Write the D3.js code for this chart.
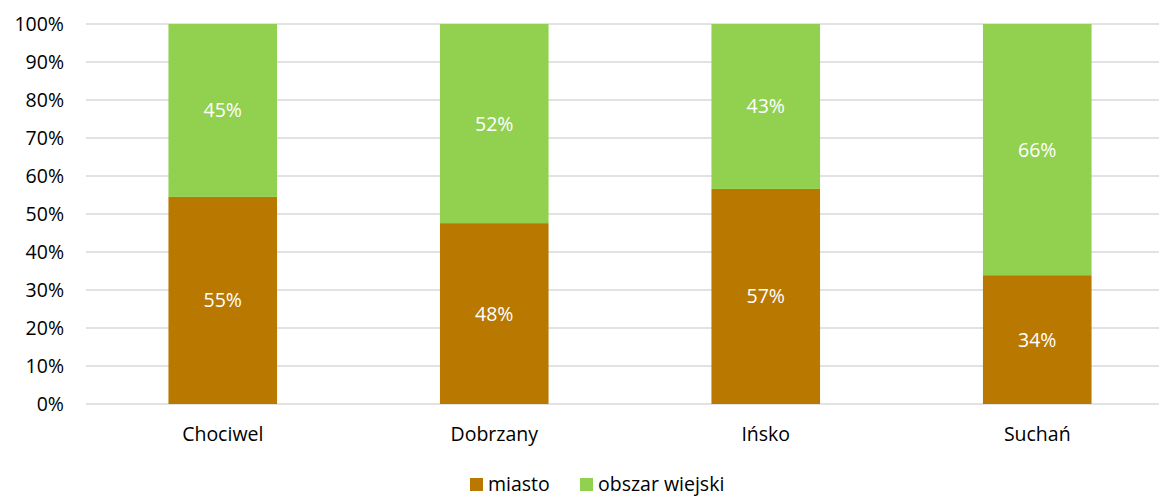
<!DOCTYPE html>
<html>
<head>
<meta charset="utf-8">
<script src="https://cdn.jsdelivr.net/npm/d3@7"></script>
<style>
  body { margin: 0; background: #fff; }
  text { font-family: "Open Sans", "Noto Sans", sans-serif; }
</style>
</head>
<body>
<svg id="chart" width="1159" height="497"></svg>
<script>
// data
let categories = ['Chociwel', 'Dobrzany', 'Ińsko', 'Suchań'];
let miasto = [54.5, 47.6, 56.6, 33.9];
let wies = [45.5, 52.4, 43.4, 66.1];
let miastoLabels = ['55%', '48%', '57%', '34%'];
let wiesLabels = ['45%', '52%', '43%', '66%'];
let yTicks = [0, 10, 20, 30, 40, 50, 60, 70, 80, 90, 100];
let seriesNames = ['miasto', 'obszar wiejski'];
let colors = ['#B97800', '#92D050'];

let fontSize = '19.5px';
let svg = d3.select('#chart');

let x = d3.scaleBand().domain(categories).range([87, 1173]).paddingInner(0.6).paddingOuter(0.3);
let y = d3.scaleLinear().domain([0, 100]).range([404, 24]);

// gridlines
svg.append('g').selectAll('line')
    .data(yTicks)
    .enter().append('line')
    .attr('x1', 86).attr('x2', 1159)
    .attr('y1', d => y(d)).attr('y2', d => y(d))
    .attr('stroke', '#d9d9d9').attr('stroke-width', 1.3);

// y tick labels
svg.append('g').selectAll('text')
    .data(yTicks)
    .enter().append('text')
    .attr('x', 64).attr('y', d => y(d) + 7)
    .attr('text-anchor', 'end')
    .attr('font-size', fontSize)
    .attr('fill', '#000')
    .text(d => d + '%');

// stacked bars
let rows = categories.map((c, i) => ({ cat: c, miasto: miasto[i], wies: wies[i], ml: miastoLabels[i], wl: wiesLabels[i] }));

let bars = svg.append('g');
bars.selectAll('.m')
    .data(rows)
    .enter().append('rect')
    .attr('class', 'm')
    .attr('x', d => x(d.cat)).attr('width', x.bandwidth())
    .attr('y', d => y(d.miasto)).attr('height', d => y(0) - y(d.miasto))
    .attr('fill', colors[0]);
bars.selectAll('.w')
    .data(rows)
    .enter().append('rect')
    .attr('class', 'w')
    .attr('x', d => x(d.cat)).attr('width', x.bandwidth())
    .attr('y', d => y(d.miasto + d.wies)).attr('height', d => y(d.miasto) - y(d.miasto + d.wies))
    .attr('fill', colors[1]);

// data labels
bars.selectAll('.ml')
    .data(rows)
    .enter().append('text')
    .attr('x', d => x(d.cat) + x.bandwidth() / 2)
    .attr('y', d => y(d.miasto / 2) + 7)
    .attr('text-anchor', 'middle').attr('font-size', fontSize).attr('fill', '#fff')
    .text(d => d.ml);
bars.selectAll('.wl')
    .data(rows)
    .enter().append('text')
    .attr('x', d => x(d.cat) + x.bandwidth() / 2)
    .attr('y', d => y(d.miasto + d.wies / 2) + 7)
    .attr('text-anchor', 'middle').attr('font-size', fontSize).attr('fill', '#fff')
    .text(d => d.wl);

// category labels
svg.append('g').selectAll('text')
    .data(categories)
    .enter().append('text')
    .attr('x', d => x(d) + x.bandwidth() / 2)
    .attr('y', 441)
    .attr('text-anchor', 'middle').attr('font-size', fontSize).attr('fill', '#000')
    .text(d => d);

// legend
let legendX = [470, 580];
let legend = svg.append('g').selectAll('g')
    .data(seriesNames)
    .enter().append('g')
    .attr('transform', (d, i) => 'translate(' + legendX[i] + ',478)');
legend.append('rect').attr('width', 13).attr('height', 13).attr('fill', (d, i) => colors[i]);
legend.append('text').attr('x', 18).attr('y', 13).attr('font-size', fontSize).attr('fill', '#000').text(d => d);
</script>
</body>
</html>
